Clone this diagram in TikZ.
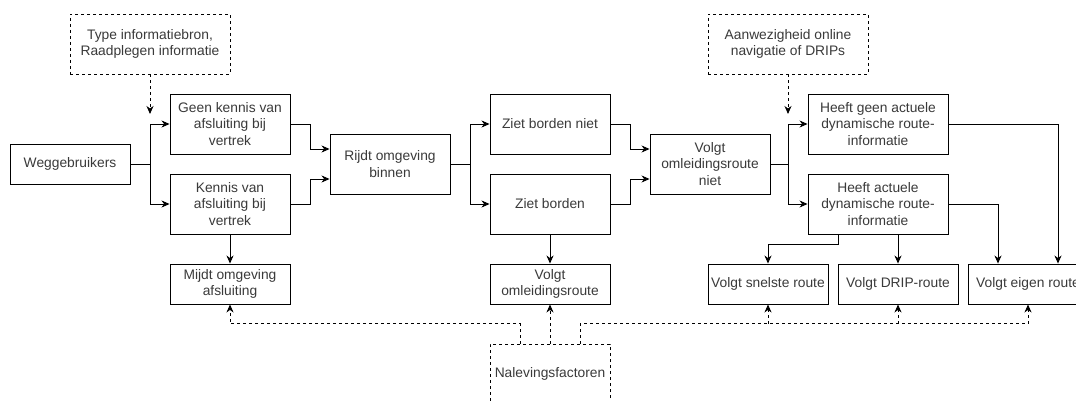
\documentclass[tikz,border=0pt]{standalone}
\usepackage{fontspec}
\setmainfont{Liberation Sans}
\usetikzlibrary{arrows.meta,calc}
\definecolor{txt}{HTML}{3A3A3A}
\tikzset{
  box/.style={draw=black, line width=0.9pt, fill=white, align=center, text=txt,
    font=\fontsize{13.8}{16.2}\selectfont, inner sep=0pt},
  tall/.style={box, minimum width=120pt, minimum height=60pt},
  flat/.style={box, minimum width=120pt, minimum height=40pt},
  wide/.style={box, minimum width=140pt, minimum height=60pt},
  factor/.style={box, dashed, dash pattern=on 3pt off 3pt, minimum width=160pt, minimum height=60pt},
  link/.style={draw=black, line width=0.9pt, -{Stealth[length=8pt,width=7pt,inset=2.5pt]}},
  hint/.style={link, dash pattern=on 3pt off 3pt},
}
\begin{document}
\begin{tikzpicture}[x=1pt,y=-1pt]
\useasboundingbox (0,0) rectangle (1076,401);
\fill[white] (0,0) rectangle (1076,401);

% external factors
\node[factor] (info) at (150,44) {Type informatiebron,\\Raadplegen informatie};
\node[factor] (aanw) at (788,44) {Aanwezigheid online\\navigatie of DRIPs};
\node[factor, minimum width=120pt] (nalev) at (550,374) {Nalevingsfactoren};

% decision chain
\node[flat] (wegg) at (70,164) {Weggebruikers};
\node[tall] (geen) at (230,124) {Geen kennis van\\afsluiting bij\\vertrek};
\node[tall] (kennis) at (230,204) {Kennis van\\afsluiting bij\\vertrek};
\node[flat] (mijdt) at (230,284) {Mijdt omgeving\\afsluiting};
\node[tall] (rijdt) at (390,164) {Rijdt omgeving\\binnen};
\node[tall] (zietniet) at (550,124) {Ziet borden niet};
\node[tall] (ziet) at (550,204) {Ziet borden};
\node[flat] (volgtoml) at (550,284) {Volgt\\omleidingsroute};
\node[tall] (volgtniet) at (710,164) {Volgt\\omleidingsroute\\niet};
\node[wide] (heeftgeen) at (878,124) {Heeft geen actuele\\dynamische route-\\informatie};
\node[wide] (heeft) at (878,204) {Heeft actuele\\dynamische route-\\informatie};
\node[flat] (snel) at (768,284) {Volgt snelste route};
\node[flat] (drip) at (898,284) {Volgt DRIP-route};
\node[flat] (eigen) at (1028,284) {Volgt eigen route};

% branching connectors
\draw[link] (wegg.east) -- ++(20,0) |- (geen.west);
\draw[link] (wegg.east) -- ++(20,0) |- (kennis.west);
\draw[link] (geen.east) -- ++(20,0) |- ([yshift=15pt]rijdt.west);
\draw[link] (kennis.east) -- ++(20,0) |- ([yshift=-15pt]rijdt.west);
\draw[link] (kennis.south) -- (mijdt.north);
\draw[link] (rijdt.east) -- ++(20,0) |- (zietniet.west);
\draw[link] (rijdt.east) -- ++(20,0) |- (ziet.west);
\draw[link] (zietniet.east) -- ++(20,0) |- ([yshift=15pt]volgtniet.west);
\draw[link] (ziet.east) -- ++(20,0) |- ([yshift=-15pt]volgtniet.west);
\draw[link] (ziet.south) -- (volgtoml.north);
\draw[link] (volgtniet.east) -- ++(18,0) |- (heeftgeen.west);
\draw[link] (volgtniet.east) -- ++(18,0) |- (heeft.west);
\draw[link] (heeftgeen.east) -| ([xshift=30pt]eigen.north);
\draw[link] (heeft.east) -| ([xshift=-30pt]eigen.north);
\draw[link] ([xshift=20pt]heeft.south) -- (drip.north);
\draw[link] ([xshift=-40pt]heeft.south) -- ++(0,10) -| (snel.north);

% influence of the external factors
\coordinate (infotip) at (150,114);
\coordinate (aanwtip) at (788,114);
\draw[hint] (info.south) -- (infotip);
\draw[hint] (aanw.south) -- (aanwtip);
\draw[hint] ([xshift=-30pt]nalev.north) -- ++(0,-20) -| (mijdt.south);
\draw[hint] (nalev.north) -- (volgtoml.south);
\coordinate (bus) at ([xshift=30pt,yshift=20pt]nalev.north);
\draw[hint] ([xshift=30pt]nalev.north) -- (bus) -| (eigen.south);
\draw[hint] (snel.south |- bus) -- (snel.south);
\draw[hint] (drip.south |- bus) -- (drip.south);
\end{tikzpicture}
\end{document}
